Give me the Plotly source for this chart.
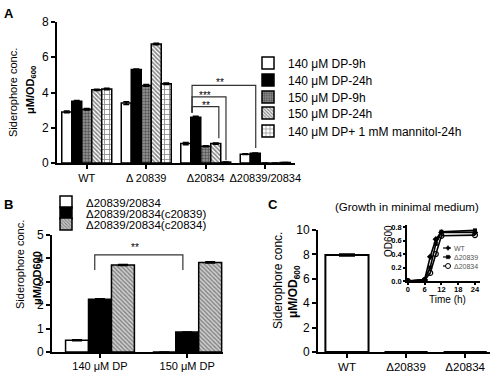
import plotly.graph_objects as go

FONT = "Liberation Sans, Arial, sans-serif"
W, H = 496, 372

# ---------------- data ----------------
# Panel A
a_categories = ["WT", "Δ 20839", "Δ20834", "Δ20839/20834"]
a_series = ["140 μM DP-9h", "140 μM DP-24h", "150 μM DP-9h", "150 μM DP-24h",
            "140 μM DP+ 1 mM mannitol-24h"]
a_dp140_9h = [2.9, 3.4, 1.1, 0.5]
a_dp140_24h = [3.5, 5.3, 2.6, 0.55]
a_dp150_9h = [3.05, 4.4, 0.95, 0.0]
a_dp150_24h = [4.15, 6.75, 1.1, 0.0]
a_mannitol_24h = [4.2, 4.5, 0.05, 0.03]
a_err_140_9h = [0.05, 0.08, 0.06, 0.02]
a_err_140_24h = [0.05, 0.04, 0.05, 0.02]
a_err_150_9h = [0.04, 0.05, 0.03, 0.0]
a_err_150_24h = [0.04, 0.04, 0.04, 0.0]
a_err_mannitol = [0.04, 0.04, 0.01, 0.0]
a_yticks = [0, 2, 4, 6, 8]

# Panel B
b_categories = ["140 μM DP", "150 μM DP"]
b_series = ["Δ20839/20834", "Δ20839/20834(c20839)", "Δ20839/20834(c20834)"]
b_mutant = [0.5, 0.0]
b_c20839 = [2.25, 0.85]
b_c20834 = [3.72, 3.83]
b_err_mutant = [0.02, 0.0]
b_err_c20839 = [0.03, 0.01]
b_err_c20834 = [0.02, 0.03]
b_yticks = [0, 1, 2, 3, 4, 5]

# Panel C
c_categories = ["WT", "Δ20839", "Δ20834"]
c_values = [7.95, 0.0, 0.0]
c_err = [0.08, 0.0, 0.0]
c_yticks = [0, 2, 4, 6, 8, 10]

# Inset (growth curve)
inset_time = [0, 6, 8, 10, 12, 24]
inset_wt = [0.0, 0.02, 0.36, 0.62, 0.72, 0.72]
inset_d20839 = [0.0, 0.02, 0.2, 0.55, 0.73, 0.75]
inset_d20834 = [0.0, 0.01, 0.12, 0.4, 0.67, 0.68]
inset_names = ["WT", "Δ20839", "Δ20834"]
inset_xticks = [0, 6, 12, 18, 24]
inset_yticks = [0.0, 0.2, 0.4, 0.6, 0.8]


def px(x):
    return x / W


def py(y):
    return 1 - y / H


fig = go.Figure()

# ---------------- panel A bars ----------------
a_vals = [a_dp140_9h, a_dp140_24h, a_dp150_9h, a_dp150_24h, a_mannitol_24h]
a_errs = [a_err_140_9h, a_err_140_24h, a_err_150_9h, a_err_150_24h, a_err_mannitol]
a_styles = [
    dict(color="white", pattern=dict(shape="")),
    dict(color="black", pattern=dict(shape="")),
    dict(color="#777", pattern=dict(shape=".", fgcolor="#111", bgcolor="#999", size=3, solidity=0.5)),
    dict(color="white", pattern=dict(shape="\\", fgcolor="#111", bgcolor="white", size=3, solidity=0.55)),
    dict(color="white", pattern=dict(shape="+", fgcolor="#111", bgcolor="white", size=5, solidity=0.3)),
]
a_w = 0.168
for i in range(5):
    fig.add_trace(go.Bar(
        x=a_categories, y=a_vals[i], name=a_series[i],
        xaxis="x", yaxis="y", width=a_w, offset=-2.5 * a_w + i * a_w,
        marker=dict(color=a_styles[i]["color"], pattern=a_styles[i]["pattern"],
                    line=dict(color="black", width=1.5)),
        error_y=dict(type="data", array=a_errs[i], visible=True, color="black",
                     thickness=1.5, width=3),
        legend="legend" if i == 0 else f"legend{i + 1}",
        showlegend=True,
    ))

# ---------------- panel B bars ----------------
b_vals = [b_mutant, b_c20839, b_c20834]
b_errs = [b_err_mutant, b_err_c20839, b_err_c20834]
b_styles = [a_styles[0], a_styles[1],
            dict(color="white", pattern=dict(shape="\\", fgcolor="#333", bgcolor="#cfcfcf", size=3, solidity=0.45))]
b_w = 0.263
for i in range(3):
    fig.add_trace(go.Bar(
        x=b_categories, y=b_vals[i], name=b_series[i],
        xaxis="x2", yaxis="y2", width=b_w, offset=-1.5 * b_w + i * b_w,
        marker=dict(color=b_styles[i]["color"], pattern=b_styles[i]["pattern"],
                    line=dict(color="black", width=1.5)),
        error_y=dict(type="data", array=b_errs[i], visible=True, color="black",
                     thickness=1.5, width=5),
        legend=f"legend{6 + i}", showlegend=True,
    ))

# ---------------- panel C bar ----------------
fig.add_trace(go.Bar(
    x=c_categories, y=c_values, name="C", xaxis="x3", yaxis="y3",
    width=0.73, offset=-0.365,
    marker=dict(color="white", line=dict(color="black", width=2)),
    error_y=dict(type="data", array=c_err, visible=True, color="black", thickness=1.5, width=8),
    showlegend=False,
))

# ---------------- inset ----------------
inset_vals = [inset_wt, inset_d20839, inset_d20834]
inset_markers = [dict(symbol="diamond", size=5, color="black"),
                 dict(symbol="square", size=4, color="black"),
                 dict(symbol="circle-open", size=5, color="black", line=dict(width=1.2))]
for i in range(3):
    fig.add_trace(go.Scatter(
        x=inset_time, y=inset_vals[i], name=inset_names[i], mode="lines+markers",
        xaxis="x4", yaxis="y4", line=dict(color="black", width=1.6),
        marker=inset_markers[i], showlegend=False,
    ))

# ---------------- axes ----------------
axis_common = dict(showline=True, linecolor="black", linewidth=2, ticks="outside",
                   ticklen=4, tickwidth=2, tickcolor="black", showgrid=False,
                   zeroline=False, fixedrange=True, automargin=False)
inset_axis = {**axis_common, "linewidth": 1.5, "ticklen": 2, "tickwidth": 1.5}
inset_font = dict(size=7.5, family=FONT, weight="bold")

fig.update_layout(
    width=W, height=H, margin=dict(l=0, r=0, t=0, b=0, autoexpand=False),
    paper_bgcolor="white", plot_bgcolor="rgba(0,0,0,0)",
    font=dict(family=FONT, color="black"),
    barmode="overlay",
    xaxis=dict(domain=[px(57), px(295)], anchor="y", type="category",
               range=[-0.5, 3.5], tickfont=dict(size=11), **axis_common),
    yaxis=dict(domain=[py(163), py(22)], anchor="x", range=[0, 8],
               tickvals=a_yticks, tickfont=dict(size=12), **axis_common),
    xaxis2=dict(domain=[px(52), px(223)], anchor="y2", type="category",
                range=[-0.55, 1.41], tickfont=dict(size=11), ticklabelstandoff=-1, **axis_common),
    yaxis2=dict(domain=[py(352), py(235)], anchor="x2", range=[0, 5],
                tickvals=b_yticks, tickfont=dict(size=12), **axis_common),
    xaxis3=dict(domain=[px(318), px(490)], anchor="y3", type="category",
                range=[-0.49, 2.42], tickfont=dict(size=11.5), ticklabelstandoff=-1, **axis_common),
    yaxis3=dict(domain=[py(352), py(230)], anchor="x3", range=[0, 10],
                tickvals=c_yticks, tickfont=dict(size=12), **axis_common),
    xaxis4=dict(domain=[px(407), px(480)], anchor="y4", range=[-0.3, 25.8],
                tickvals=inset_xticks, tickfont=inset_font, ticklabelstandoff=-2, **inset_axis),
    yaxis4=dict(domain=[py(281), py(225)], anchor="x4", range=[0, 0.83],
                tickvals=inset_yticks, tickformat=".1f", tickfont=inset_font, **inset_axis),
)

# ---------------- legends (one per entry for exact row spacing) ----------------
a_rows = [63, 80, 97, 113, 131]
for i, yy in enumerate(a_rows):
    key = "legend" if i == 0 else f"legend{i + 1}"
    fig.update_layout(**{key: dict(x=px(248), y=py(yy), xanchor="left", yanchor="middle",
                                   bgcolor="rgba(0,0,0,0)", borderwidth=0,
                                   font=dict(size=12, family=FONT), itemclick=False,
                                   itemdoubleclick=False)})
b_rows = [202, 213, 224]
for i, yy in enumerate(b_rows):
    fig.update_layout(**{f"legend{6 + i}": dict(x=px(46), y=py(yy), xanchor="left", yanchor="middle",
                                               bgcolor="rgba(0,0,0,0)", borderwidth=0,
                                               font=dict(size=11.5, family=FONT), itemclick=False,
                                               itemdoubleclick=False)})

# ---------------- annotations ----------------
ann = []


def text(x, y, s, size=11, angle=0, xanchor="center", yanchor="middle", color="black", bold=False):
    ann.append(dict(x=px(x), y=py(y), xref="paper", yref="paper", text=(f"<b>{s}</b>" if bold else s),
                    showarrow=False, textangle=angle, xanchor=xanchor, yanchor=yanchor,
                    font=dict(size=size, family=FONT, color=color)))


text(9, 14, "A", size=13, bold=True)
text(8, 205, "B", size=13, bold=True)
text(273, 205, "C", size=13, bold=True)

text(13, 93, "Siderophore conc.", size=11, angle=-90)
text(31, 90, "μM/OD<sub>600</sub>", size=11, angle=-90, bold=True)
text(20, 265, "Siderophore conc.", size=11, angle=-90)
text(37, 278, "μM/OD600", size=11, angle=-90, bold=True)
text(278, 281, "Siderophore conc.", size=12, angle=-90)
text(294, 292, "μM/OD<sub>600</sub>", size=12, angle=-90, bold=True)

text(407, 207, "(Growth in minimal medium)", size=11.5)
text(388, 241, "OD600", size=10, angle=-90)
text(447, 299, "Time (h)", size=10)

# significance stars
text(220, 82, "**", size=10)
text(205, 95, "***", size=10)
text(206, 106, "**", size=10)
text(135, 247, "**", size=10)

# inset legend text
for name, yy in zip(inset_names, [248, 257, 266]):
    text(452, yy, name, size=7, xanchor="left", color="#555")

fig.update_layout(annotations=ann)

# ---------------- shapes: brackets & inset legend glyphs ----------------
shapes = []
br = dict(color="#333", width=1.2)
for (ytop, xr, ybot) in [(4.4, 2.84, 0.85), (3.75, 2.34, 0.15), (3.2, 2.22, 1.4)]:
    shapes.append(dict(type="path", xref="x", yref="y",
                       path=f"M 1.77,2.85 L 1.77,{ytop} L {xr},{ytop} L {xr},{ybot}", line=br))
shapes.append(dict(type="path", xref="x2", yref="y2",
                   path="M -0.06,3.5 L -0.06,4.15 L 0.95,4.15 L 0.95,3.5", line=br))

for k, yy in enumerate([248, 257, 266]):
    shapes.append(dict(type="line", xref="paper", yref="paper", x0=px(443), x1=px(451),
                       y0=py(yy), y1=py(yy), line=dict(color="black", width=1.2)))
    if k == 0:
        shapes.append(dict(type="path", xref="paper", yref="paper",
                           path=f"M {px(446)},{py(yy)} L {px(448)},{py(yy - 2.5)} L {px(450)},{py(yy)} L {px(448)},{py(yy + 2.5)} Z",
                           fillcolor="black", line=dict(color="black", width=0.5)))
    elif k == 1:
        shapes.append(dict(type="rect", xref="paper", yref="paper",
                           x0=px(446.3), x1=px(449.7), y0=py(yy - 1.7), y1=py(yy + 1.7),
                           fillcolor="black", line=dict(color="black", width=0.5)))
    else:
        shapes.append(dict(type="circle", xref="paper", yref="paper",
                           x0=px(445.5), x1=px(450.5), y0=py(yy - 2.5), y1=py(yy + 2.5),
                           fillcolor="white", line=dict(color="black", width=1)))

fig.update_layout(shapes=shapes)

# remove the default 8px page margin so the figure sits at the window origin
fig.write_html("out.html", config={"displayModeBar": False},
               post_script="document.body.style.margin='0px';")
